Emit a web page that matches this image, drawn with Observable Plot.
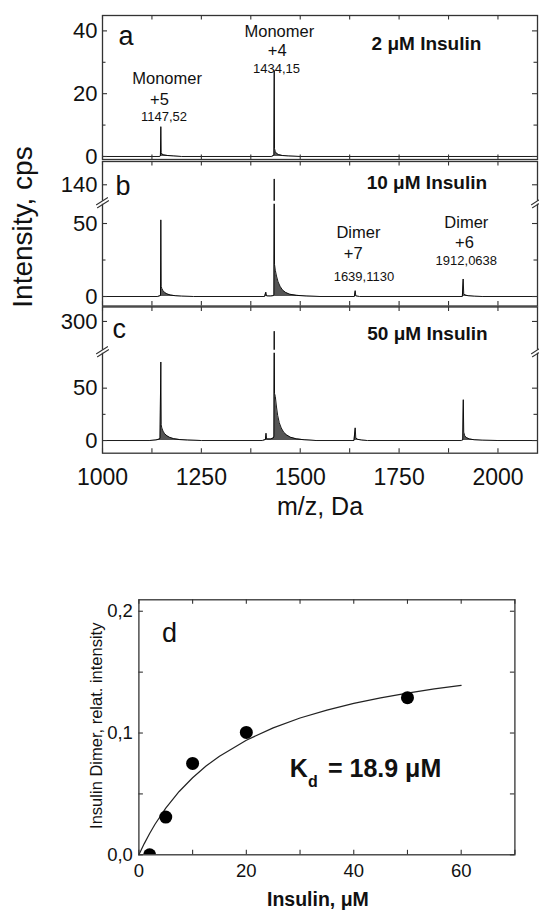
<!DOCTYPE html>
<html><head><meta charset="utf-8">
<script src="https://cdn.jsdelivr.net/npm/d3@7"></script>
<script src="https://cdn.jsdelivr.net/npm/@observablehq/plot@0.6"></script>
<style>
body{margin:0;background:#fff;}
#root{position:relative;width:539px;height:911px;overflow:hidden;background:#fff;}
.panel{position:absolute;left:0;}
</style></head><body><div id="root"></div>
<script>
// ---------- DATA ----------
// Panel a: 2 µM insulin spectrum (m/z, intensity cps)
const mzA  = [1000,1145,1146.5,1147.5,1148.5,1150,1155,1165,1180,1200,1428,1432,1433.5,1434.2,1435,1437,1440,1445,1455,1470,1500,2100];
const intA = [0,0,0.2,9.5,1.2,0.8,0.5,0.3,0.15,0,0,0.3,0.5,27.4,2.5,1.5,1.0,0.6,0.3,0.15,0,0];
// Panel b: 10 µM insulin
const mzB  = [1000,1140,1145,1146.7,1147.5,1148.5,1150,1153,1157,1163,1172,1185,1200,1230,1410,1413,1415,1425,1432,1433.5,1434.2,1435,1437,1440,1444,1449,1455,1463,1473,1490,1515,1550,1637,1639,1640.5,1650,1910,1912,1913.5,1917,1925,1940,1960,2100];
const intB = [0,0,0.5,0.8,52.5,7,5.5,4,2.8,1.8,1.0,0.5,0.25,0,0,3,0.4,0.3,0.6,1.2,144,22,18,14,10,7,4.5,2.8,1.6,0.8,0.3,0,0,4,0.4,0,0,12,2,1.0,0.5,0.2,0,0];
// Panel c: 50 µM insulin
const mzC  = [1000,1120,1135,1142,1145.5,1147.5,1148.5,1150,1153,1157,1163,1170,1180,1195,1215,1250,1405,1412,1413.5,1415,1425,1432,1433.5,1434.2,1435,1437,1440,1443,1447,1452,1458,1465,1475,1490,1510,1540,1636,1639,1640.5,1645,1655,1670,1908,1911,1912.3,1913.5,1916,1920,1928,1940,1960,2000,2100];
const intC = [0,0,0.5,1.2,2,75,15,12,9,6.5,4.5,3,1.8,0.9,0.4,0,0,1,7,1.5,1.5,2.5,4,290.7,45,42,32,24,17,12,8,5.5,3.2,1.6,0.7,0,0,12.1,2.5,1.2,0.4,0,0,0.5,39,8,4.5,2.8,1.5,0.7,0.3,0,0];

// Panel d: dimer relative intensity vs insulin concentration
const insulinConc = [2, 5, 10, 20, 50];
const dimerRel    = [0.0, 0.031, 0.075, 0.1005, 0.129];
// fitted curve
const fitConc = [0,1,2,3,5,7.5,10,12.5,15,20,25,30,35,40,45,50,55,60];
const fitRel  = [0,0.0092,0.0175,0.0251,0.0383,0.052,0.0633,0.0729,0.081,0.0941,0.1042,0.1123,0.1188,0.1243,0.1289,0.1328,0.1362,0.1392];

// Tick values / labels
const xMajor = [1000,1250,1500,1750,2000];
const xMinor = [1125,1375,1625,1875];
const yMajorA = [0,20,40], yMinorA = [10,30];
const yMajorB = [0,50,140], yMinorB = [25];
const yMajorC = [0,50,300], yMinorC = [25];
const dXTicks = [0,10,20,30,40,50,60,70], dXLabels = [0,20,40,60];
const dYTicks = [0,0.05,0.1,0.15,0.2], dYLabels = [0,0.1,0.2];

// Text
const panelLetters = ["a","b","c","d"];
const concLabels = ["2 μM Insulin","10 μM Insulin","50 μM Insulin"];
const peakNamesA = ["Monomer","+5","1147,52","Monomer","+4","1434,15"];
const peakNamesB = ["Dimer","+7","1639,1130","Dimer","+6","1912,0638"];

// ---------- DRAWING ----------
const FONT = '"Liberation Sans", Arial, Helvetica, sans-serif';
const W = 539, ML = 102, MR = 2, PW = W - ML - MR;
const FR = "#333";
const root = document.getElementById("root");

function place(svg, top) {
  const d = document.createElement("div");
  d.className = "panel"; d.style.top = top + "px";
  d.appendChild(svg); root.appendChild(d);
}
function lab(t, x, y, o = {}) {
  return Plot.text([t], {x: [x], y: [y], text: d => d, fill: "#111", ...o});
}
// axis-break glyph: two short parallel slanted strokes
const breakShape = {
  draw(ctx) {
    ctx.moveTo(-6, 2.5); ctx.lineTo(5, -4.5);
    ctx.moveTo(-5, 5.5); ctx.lineTo(6, -1.5);
  }
};

function spectrum({mz, inten, top, height, marginTop, marginBottom, yDomain, yRange, yMajor, yMinor, brk, extra, xAxis}) {
  const ph = height - marginTop - marginBottom;
  const rows = mz.map((m, i) => ({mz: m, v: inten[i]}));
  const marks = [
    Plot.areaY(rows, {x: "mz", y: "v", fill: "#555"}),
    Plot.lineY(rows, {x: "mz", y: "v", stroke: "#000", strokeWidth: 0.9}),
    Plot.frame({stroke: FR, strokeWidth: 1.3})
  ];
  if (brk !== undefined) {
    marks.push(Plot.ruleY([brk], {stroke: "white", strokeWidth: 3, insetLeft: -4, insetRight: -4}));
    marks.push(Plot.vector([brk], {y: d => d, frameAnchor: "left", length: 10, anchor: "start", shape: breakShape, stroke: FR, strokeWidth: 1.1}));
    marks.push(Plot.vector([brk], {y: d => d, frameAnchor: "right", length: 10, anchor: "start", shape: breakShape, stroke: FR, strokeWidth: 1.1}));
  }
  marks.push(
    Plot.tickY(yMajor, {insetRight: PW - 5, stroke: FR, strokeWidth: 1.1}),
    Plot.tickY(yMajor, {insetLeft: PW - 5, stroke: FR, strokeWidth: 1.1}),
    Plot.tickY(yMinor, {insetRight: PW - 3.5, stroke: FR, strokeWidth: 1.1}),
    Plot.tickY(yMinor, {insetLeft: PW - 3.5, stroke: FR, strokeWidth: 1.1}),
    Plot.tickX(xMajor.concat(xMinor), {insetTop: ph - 4.5, stroke: FR, strokeWidth: 1.1}),
    Plot.tickX(xMajor.concat(xMinor), {insetBottom: ph - 4.5, stroke: FR, strokeWidth: 1.1}),
    Plot.axisY(yMajor, {anchor: "left", tickSize: 0, tickPadding: 5, fontSize: 22, label: null, fill: "#111"})
  );
  if (xAxis) {
    marks.push(Plot.axisX(xMajor, {anchor: "bottom", tickSize: 0, tickPadding: 15, fontSize: 23, label: null, fill: "#111", tickFormat: d => String(d)}));
    marks.push(Plot.text(["m/z, Da"], {frameAnchor: "bottom", lineAnchor: "middle", dy: 54, fontSize: 25, fill: "#111"}));
  }
  marks.push(...extra);
  const svg = Plot.plot({
    width: W, height, marginLeft: ML, marginRight: MR, marginTop, marginBottom,
    style: {fontFamily: FONT, fontSize: "16px", background: "transparent", color: "#111", overflow: "visible"},
    x: {domain: [1000, 2100], axis: null},
    y: yRange ? {type: "linear", domain: yDomain, range: yRange} : {domain: yDomain},
    marks
  });
  place(svg, top);
}

// Panel a
spectrum({
  mz: mzA, inten: intA, top: 0, height: 160, marginTop: 15, marginBottom: 1,
  yDomain: [-0.96, 44.9], yMajor: yMajorA, yMinor: yMinorA,
  extra: [
    lab(panelLetters[0], 1040.5, 38.1, {fontSize: 27, textAnchor: "start"}),
    lab(concLabels[0], 1819.3, 35.9, {fontSize: 19, fontWeight: "bold"}),
    lab(peakNamesA[0], 1163.4, 24.8, {fontSize: 16.5}),
    lab(peakNamesA[1], 1144.1, 18.2, {fontSize: 16.5}),
    lab(peakNamesA[2], 1155.5, 12.5, {fontSize: 13}),
    lab(peakNamesA[3], 1447.1, 39.6, {fontSize: 16.5}),
    lab(peakNamesA[4], 1441.8, 33.8, {fontSize: 16.5}),
    lab(peakNamesA[5], 1440.0, 28.0, {fontSize: 13})
  ]
});

// Panel b (broken axis)
spectrum({
  mz: mzB, inten: intB, top: 160, height: 146, marginTop: 1, marginBottom: 0.5,
  yDomain: [-6.5, 64.6, 128.1, 155.9], yRange: [145.5, 41.7, 41.7, 1],
  yMajor: yMajorB, yMinor: yMinorB, brk: 64.6,
  extra: [
    lab(panelLetters[1], 1032.9, 138.6, {fontSize: 27, textAnchor: "start"}),
    lab(concLabels[1], 1820.3, 141.4, {fontSize: 19, fontWeight: "bold"}),
    lab(peakNamesB[0], 1647.1, 43.9, {fontSize: 16.5}),
    lab(peakNamesB[1], 1634.0, 29.5, {fontSize: 16.5}),
    lab(peakNamesB[2], 1661.0, 13.2, {fontSize: 13}),
    lab(peakNamesB[3], 1920.0, 50.7, {fontSize: 16.5}),
    lab(peakNamesB[4], 1915.4, 37.0, {fontSize: 16.5}),
    lab(peakNamesB[5], 1920.0, 24.1, {fontSize: 13})
  ]
});

// Panel c (broken axis, with x axis)
spectrum({
  mz: mzC, inten: intC, top: 306, height: 215, marginTop: 0.5, marginBottom: 68.3,
  yDomain: [-12.1, 85.3, 271.6, 313.8], yRange: [146.7, 44.7, 44.7, 0.5],
  yMajor: yMajorC, yMinor: yMinorC, brk: 85.3, xAxis: true,
  extra: [
    lab(panelLetters[2], 1025.3, 292.9, {fontSize: 27, textAnchor: "start"}),
    lab(concLabels[2], 1821.8, 288.3, {fontSize: 19, fontWeight: "bold"})
  ]
});

// Shared y label for spectra
const ns = "http://www.w3.org/2000/svg";
const ov = document.createElementNS(ns, "svg");
ov.setAttribute("width", 60); ov.setAttribute("height", 520);
ov.style.position = "absolute"; ov.style.left = "0px"; ov.style.top = "0px"; ov.style.zIndex = 5;
const yt = document.createElementNS(ns, "text");
yt.setAttribute("transform", "translate(32,227) rotate(-90)");
yt.setAttribute("text-anchor", "middle");
yt.setAttribute("font-family", FONT);
yt.setAttribute("font-size", "28");
yt.setAttribute("fill", "#111");
yt.textContent = "Intensity, cps";
ov.appendChild(yt);
root.appendChild(ov);

// Panel d
{
  const pts = insulinConc.map((c, i) => ({c, r: dimerRel[i]}));
  const fit = fitConc.map((c, i) => ({c, r: fitRel[i]}));
  const dH = 351, dMT = 39.3, dMB = 56.7, dML = 138.4, dMR = 24.6;
  const dPW = W - dML - dMR, dPH = dH - dMT - dMB;
  const fmt = d => d.toFixed(1).replace(".", ",");
  const svg = Plot.plot({
    width: W, height: dH, marginTop: dMT, marginBottom: dMB, marginLeft: dML, marginRight: dMR,
    style: {fontFamily: FONT, fontSize: "16px", background: "transparent", color: "#111", overflow: "visible"},
    x: {domain: [0, 70]},
    y: {domain: [0, 0.2094]},
    marks: [
      Plot.line(fit, {x: "c", y: "r", stroke: "#222", strokeWidth: 1.2}),
      Plot.dot(pts, {x: "c", y: "r", r: 6.5, fill: "#000", stroke: "none", clip: true}),
      Plot.frame({stroke: FR, strokeWidth: 1.3}),
      Plot.tickX(dXTicks, {insetTop: dPH - 4.5, stroke: FR, strokeWidth: 1.1}),
      Plot.tickX(dXTicks, {insetBottom: dPH - 4.5, stroke: FR, strokeWidth: 1.1}),
      Plot.tickY(dYTicks, {insetRight: dPW - 4.5, stroke: FR, strokeWidth: 1.1}),
      Plot.tickY(dYTicks, {insetLeft: dPW - 4.5, stroke: FR, strokeWidth: 1.1}),
      Plot.axisX(dXLabels, {anchor: "bottom", tickSize: 0, tickPadding: 9.3, fontSize: 18.5, label: null, fill: "#111"}),
      Plot.axisY(dYLabels, {anchor: "left", tickSize: 0, tickPadding: 6, fontSize: 18.5, label: null, tickFormat: fmt, fill: "#111"}),
      Plot.text(["Insulin, μM"], {frameAnchor: "bottom", lineAnchor: "middle", dy: 45, dx: -9, fontSize: 19.5, fontWeight: "bold", fill: "#111"}),
      lab("Insulin Dimer, relat. intensity", -7.9, 0.106, {textAnchor: "middle", lineAnchor: "middle", rotate: -90, fontSize: 16.5}),
      lab(panelLetters[3], 4.3, 0.1821, {fontSize: 27, textAnchor: "start"}),
      lab("K", 28.1, 0.0703, {fontSize: 25, fontWeight: "bold", textAnchor: "start"}),
      lab("d", 31.5, 0.0597, {fontSize: 16, fontWeight: "bold", textAnchor: "start"}),
      lab("= 18.9 μM", 35.2, 0.0703, {fontSize: 25, fontWeight: "bold", textAnchor: "start"})
    ]
  });
  place(svg, 560);
}
</script></body></html>
